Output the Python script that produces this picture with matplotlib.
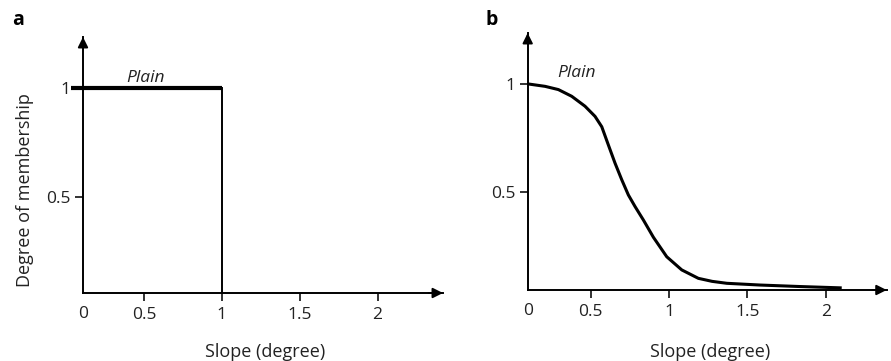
import numpy as np
import matplotlib.pyplot as plt

plt.rcParams['font.family'] = ['Open Sans', 'DejaVu Sans']

# crisp membership for "Plain": 1 up to slope 1, then 0
crisp_x = [0, 1, 1]
crisp_y = [1, 1, 0]

# fuzzy membership for "Plain"
fuzzy_x = [0.0, 0.101, 0.208, 0.293, 0.378, 0.463, 0.527, 0.570, 0.612, 0.655,
           0.698, 0.740, 0.783, 0.836, 0.900, 0.985, 1.081, 1.187, 1.275,
           1.369, 1.581, 1.837, 2.093]
fuzzy_y = [1.0, 1.0, 0.989, 0.974, 0.943, 0.897, 0.850, 0.802, 0.718, 0.633,
           0.556, 0.486, 0.432, 0.370, 0.290, 0.200, 0.139, 0.100, 0.086,
           0.077, 0.069, 0.062, 0.056]

xticks = [0.5, 1, 1.5, 2]
xtick_labels = ['0.5', '1', '1.5', '2']
yticks = [0.5, 1]
ytick_labels = ['0.5', '1']

FS = 12.5
TXT = '#222222'

fig = plt.figure(figsize=(8.91, 3.61), dpi=100)
ax1 = fig.add_axes([83/891, 1 - 293/361, 360/891, 256/361])
ax2 = fig.add_axes([527.7/891, 1 - 290/361, 359/891, 257/361])


def style(ax, xlim, ylim):
    ax.set_xlim(*xlim)
    ax.set_ylim(*ylim)
    for s in ['top', 'right']:
        ax.spines[s].set_visible(False)
    for s in ['left', 'bottom']:
        ax.spines[s].set_linewidth(1.4)
    ax.set_xticks(xticks)
    ax.set_xticklabels(xtick_labels)
    ax.set_yticks(yticks)
    ax.set_yticklabels(ytick_labels)
    ax.tick_params(direction='out', length=6, width=1.3, labelsize=FS,
                   colors=TXT, pad=3)
    ax.tick_params(axis='x', pad=4)
    # origin label
    ax.text(xlim[0], -0.05, '0', transform=ax.get_xaxis_transform(),
            ha='center', va='top', fontsize=FS, color=TXT)
    # arrowheads at the ends of the axes
    ax.annotate('', xy=(1.0, 0), xytext=(0.96, 0), xycoords='axes fraction',
                arrowprops=dict(arrowstyle='-|>', lw=1.4, color='k',
                                mutation_scale=15, shrinkA=0, shrinkB=0))
    ax.annotate('', xy=(0, 1.0), xytext=(0, 0.96), xycoords='axes fraction',
                arrowprops=dict(arrowstyle='-|>', lw=1.4, color='k',
                                mutation_scale=15, shrinkA=0, shrinkB=0))


# a: crisp set
style(ax1, (0.109, 2.42), (0.06, 1.234))
ax1.plot(crisp_x[:2], crisp_y[:2], color='k', lw=3.0, solid_capstyle='butt')
ax1.plot(crisp_x[1:], crisp_y[1:], color='k', lw=1.4)
ax1.plot([0.035, 0.109], [1, 1], color='k', lw=3.0, clip_on=False,
         solid_capstyle='butt')
ax1.text(0.51, 1.046, 'Plain', style='italic', fontsize=FS, ha='center',
         va='center', color=TXT)

# b: fuzzy set
style(ax2, (0.097, 2.39), (0.046, 1.236))
ax2.plot(fuzzy_x, fuzzy_y, color='k', lw=2.2, solid_joinstyle='round')
ax2.text(0.41, 1.05, 'Plain', style='italic', fontsize=FS, ha='center',
         va='center', color=TXT)

fig.text(265/891, 1 - 352/361, 'Slope (degree)', fontsize=13, color=TXT,
         ha='center', va='center')
fig.text(710/891, 1 - 352/361, 'Slope (degree)', fontsize=13, color=TXT,
         ha='center', va='center')
fig.text(25/891, 1 - 190/361, 'Degree of membership', fontsize=13, color=TXT,
         ha='center', va='center', rotation=90)

fig.text(12/891, 1 - 20/361, 'a', fontsize=14, fontweight='bold',
         ha='left', va='center')
fig.text(486/891, 1 - 20/361, 'b', fontsize=14, fontweight='bold',
         ha='left', va='center')

fig.savefig('out.png', dpi=100)
